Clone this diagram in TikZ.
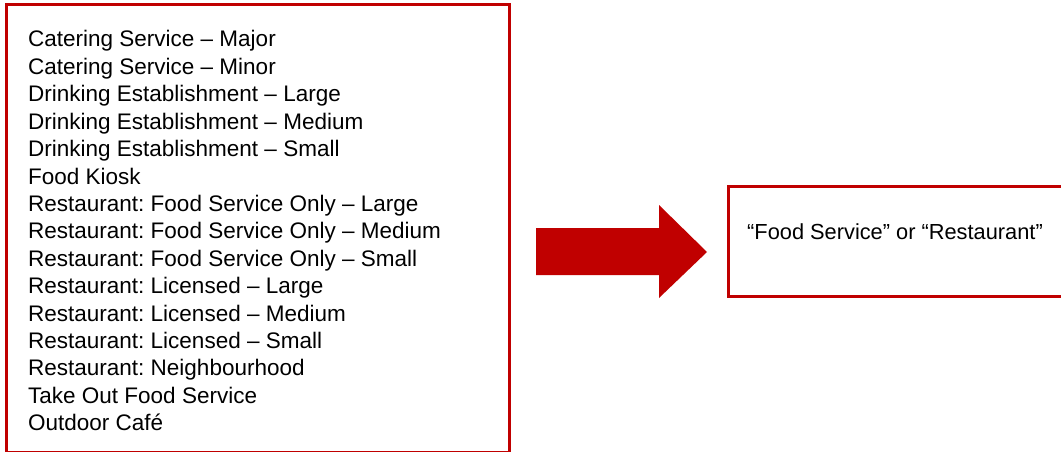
\documentclass[tikz,border=0pt]{standalone}
\usepackage{fontspec}
\setmainfont{Liberation Sans}
\usepackage{xcolor}
\usetikzlibrary{positioning}
\definecolor{boxred}{HTML}{C00000}
\frenchspacing

\begin{document}
\begin{tikzpicture}[
    x=1pt, y=-1pt,
    box/.style={draw=boxred, line width=3pt, inner sep=0pt, outer sep=0pt, anchor=north west},
    item/.style={anchor=base west, inner sep=0pt, font=\fontsize{22.5}{27.4}\selectfont},
    bigarrow/.style={fill=boxred, draw=none}
]
    \useasboundingbox (0,0) rectangle (1061,452);

    % the two frames
    \node[box, minimum width=503pt, minimum height=448pt] (list) at (6,4.5) {};
    \node[box, minimum width=342pt, minimum height=110pt] (result) at (728,186) {};

    % old category names
    \foreach \txt [count=\i] in {
        Catering Service – Major,
        Catering Service – Minor,
        Drinking Establishment – Large,
        Drinking Establishment – Medium,
        Drinking Establishment – Small,
        Food Kiosk,
        Restaurant: Food Service Only – Large,
        Restaurant: Food Service Only – Medium,
        Restaurant: Food Service Only – Small,
        Restaurant: Licensed – Large,
        Restaurant: Licensed – Medium,
        Restaurant: Licensed – Small,
        Restaurant: Neighbourhood,
        Take Out Food Service,
        Outdoor Café}
        \node[item] (l\i) at (28, {47+27.4*(\i-1)}) {\txt};

    % new name
    \node[item, font=\fontsize{21.8}{26}\selectfont] (target) at (747,239) {“Food Service” or “Restaurant”};

    % block arrow between the frames
    \fill[bigarrow] (536,228) -- (659,228) -- (659,205) -- (707,252)
        -- (659,298) -- (659,275) -- (536,275) -- cycle;
\end{tikzpicture}
\end{document}
